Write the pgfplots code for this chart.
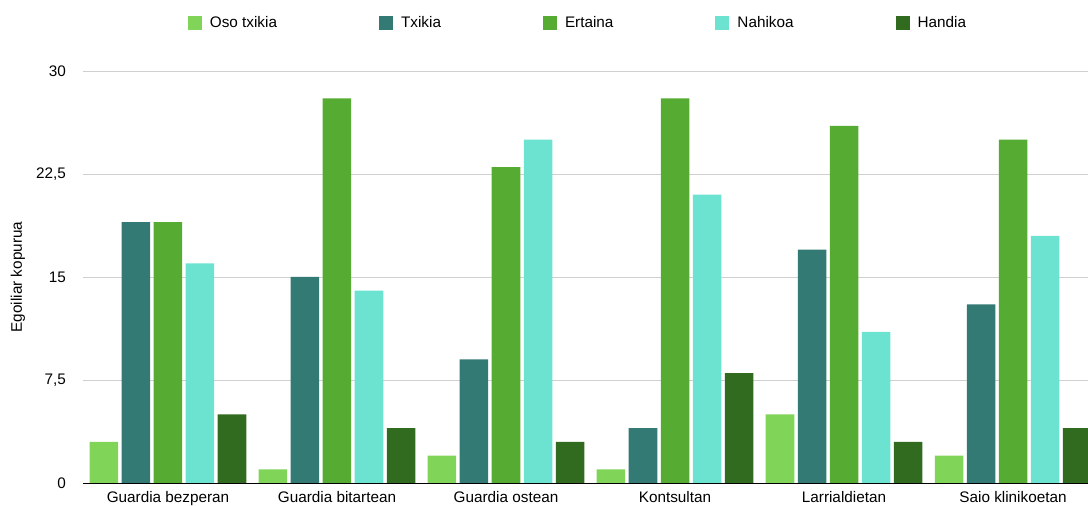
\documentclass[border=0pt]{standalone}
\usepackage{pgfplots}
\pgfplotsset{compat=1.18}
\usepackage{pgfplotstable}
\usepackage{fontspec}
\setmainfont{Liberation Sans}

\definecolor{osotxikia}{HTML}{80D457}
\definecolor{txikia}{HTML}{337A74}
\definecolor{ertaina}{HTML}{56AB33}
\definecolor{nahikoa}{HTML}{6CE3D1}
\definecolor{handia}{HTML}{306B1F}
\definecolor{gridgray}{HTML}{D0D0D0}

% Egoiliar kopurua, lekuaren eta mailaren arabera
\pgfplotstableread{
x  oso  txi  ert  nah  han
0  3    19   19   16   5
1  1    15   28   14   4
2  2    9    23   25   3
3  1    4    28   21   8
4  5    17   26   11   3
5  2    13   25   18   4
}\datatable

\newcommand{\chartfont}{\fontsize{15.3bp}{18bp}\selectfont}

\begin{document}
\begin{tikzpicture}
\begin{axis}[
  scale only axis,
  width=1014bp, height=412bp,
  xmin=-0.5, xmax=5.5,
  ymin=0, ymax=30,
  ybar=3.5bp,
  bar width=28.5bp,
  axis x line*=bottom,
  axis y line*=left,
  y axis line style={draw=none},
  x axis line style={black, line width=0.8pt, -},
  major tick length=0pt,
  xtick=data,
  xticklabels={Guardia bezperan, Guardia bitartean, Guardia ostean, Kontsultan, Larrialdietan, Saio klinikoetan},
  ytick={0,7.5,15,22.5,30},
  ymajorgrids,
  grid style={gridgray, line width=0.7pt},
  /pgf/number format/assume math mode=true,
  /pgf/number format/use comma,
  tick label style={font=\chartfont},
  yticklabel style={anchor=east, inner sep=0pt, xshift=-17.5bp},
  xticklabel style={inner sep=0pt, yshift=-8bp},
  ylabel={Egoiliar kopurua},
  every axis y label/.style={at={(axis description cs:-0.0646,0.5)}, rotate=90, anchor=center, font=\chartfont},
  legend columns=5,
  legend style={at={(axis description cs:0.4867,1.117)}, anchor=center, draw=none, inner sep=0pt,
    font=\chartfont, nodes={inner sep=0pt},
    /tikz/every odd column/.append style={column sep=8bp},
    /tikz/every even column/.append style={column sep=102bp}},
  legend image code/.code={\fill[#1] (0bp,-7bp) rectangle (14bp,7bp);},
  every axis plot/.append style={draw=none},
]
\addplot[fill=osotxikia] table[x=x, y=oso] {\datatable};
\addplot[fill=txikia] table[x=x, y=txi] {\datatable};
\addplot[fill=ertaina] table[x=x, y=ert] {\datatable};
\addplot[fill=nahikoa] table[x=x, y=nah] {\datatable};
\addplot[fill=handia] table[x=x, y=han] {\datatable};
\legend{Oso txikia, Txikia, Ertaina, Nahikoa, Handia}
\end{axis}
\pgfresetboundingbox
\path[use as bounding box] (-83.5bp,-23bp) rectangle (1004.5bp,483bp);
\end{tikzpicture}
\end{document}
